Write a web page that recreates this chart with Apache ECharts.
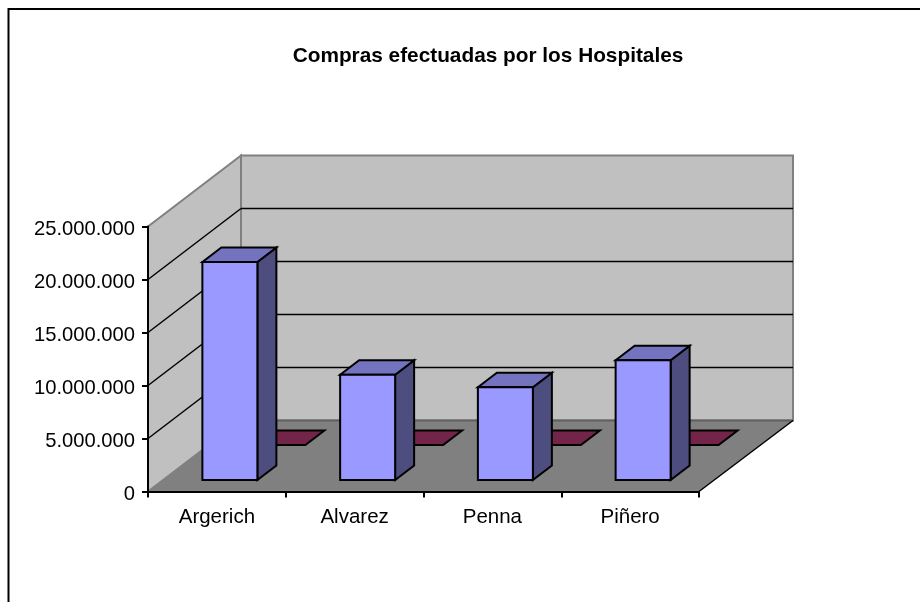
<!DOCTYPE html>
<html>
<head>
<meta charset="utf-8">
<style>html,body{margin:0;padding:0;background:#fff}#c{width:920px;height:602px}</style>
<script src="https://cdn.jsdelivr.net/npm/echarts@6/dist/echarts.min.js"></script>
</head>
<body>
<div id="c"></div>
<script>
var titleText = 'Compras efectuadas por los Hospitales';
var categories = ['Argerich', 'Alvarez', 'Penna', 'Piñero'];
var seriesOne = [20570000, 9930000, 8750000, 11300000];
var seriesTwo = [3300000, 3300000, 3300000, 3300000];
var gridTicks = [5000000, 10000000, 15000000, 20000000];

var WALL_DX = 93, WALL_DY = -71, WALL_RIGHT_EXTRA = 1;
var BAR_DX = 19, BAR_DY = -14.5;
var BASE_DY = -11.5, BAR_SHIFT = 13, BAR_W = 55, FLAT_RIGHT = 88.5;
var FONT = '"Liberation Sans", Arial, sans-serif';

function poly(points, fill, stroke, width) {
  return { type: 'polygon', shape: { points: points }, style: { fill: fill, stroke: stroke, lineWidth: width, lineJoin: 'miter' } };
}
function seg(x1, y1, x2, y2, stroke, width) {
  return { type: 'line', shape: { x1: x1, y1: y1, x2: x2, y2: y2 }, style: { stroke: stroke, lineWidth: width } };
}

function renderWalls(params, api) {
  var c = params.coordSys;
  var L = c.x, R = c.x + c.width, T = c.y, B = c.y + c.height;
  var dx = WALL_DX, dy = WALL_DY, Rb = R + dx + WALL_RIGHT_EXTRA;
  var kids = [
    poly([[L + dx, T + dy], [Rb, T + dy], [Rb, B + dy], [L + dx, B + dy]], '#c0c0c0', '#808080', 2),
    poly([[L, T], [L + dx, T + dy], [L + dx, B + dy], [L, B]], '#c0c0c0', '#808080', 2),
    poly([[L, B], [R, B], [Rb, B + dy], [L + dx, B + dy]], '#808080', null, 0),
    seg(L + dx, B + dy, Rb, B + dy, '#606060', 2),
    seg(R, B, Rb, B + dy, '#000', 1.5)
  ];
  gridTicks.forEach(function (v) {
    var y = api.coord([0, v])[1];
    kids.push(seg(L, y, L + dx, y + dy, '#000', 1.5));
    kids.push(seg(L + dx, y + dy, Rb, y + dy, '#000', 1.5));
  });
  return { type: 'group', children: kids };
}

function renderFlat(params, api) {
  var p = api.coord([api.value(0), api.value(1)]);
  var left = p[0] + BAR_SHIFT + BAR_W / 2;
  var right = p[0] + FLAT_RIGHT;
  var y = p[1] + BASE_DY;
  return poly([[left, y], [right, y], [right + BAR_DX, y + BAR_DY], [left + BAR_DX, y + BAR_DY]], '#732449', '#000', 2);
}

function renderBar(params, api) {
  var p = api.coord([api.value(0), api.value(1)]);
  var base = api.coord([api.value(0), 0]);
  var x0 = p[0] + BAR_SHIFT - BAR_W / 2, x1 = x0 + BAR_W;
  var top = p[1] + BASE_DY, bot = base[1] + BASE_DY;
  return { type: 'group', children: [
    poly([[x1, top], [x1 + BAR_DX, top + BAR_DY], [x1 + BAR_DX, bot + BAR_DY], [x1, bot]], '#4d4d80', '#000', 2),
    poly([[x0, top], [x0 + BAR_DX, top + BAR_DY], [x1 + BAR_DX, top + BAR_DY], [x1, top]], '#7373bf', '#000', 2),
    poly([[x0, top], [x1, top], [x1, bot], [x0, bot]], '#9999ff', '#000', 2)
  ] };
}

var chart = echarts.init(document.getElementById('c'), null, { renderer: 'canvas' });
chart.setOption({
  animation: false,
  backgroundColor: '#fff',
  title: {
    text: titleText, left: 483, top: 41, textAlign: 'center',
    textStyle: { fontFamily: FONT, fontSize: 20.8, fontWeight: 'bold', color: '#000' }
  },
  graphic: [
    { type: 'line', silent: true, shape: { x1: 8, y1: 9, x2: 920, y2: 9 }, style: { stroke: '#000', lineWidth: 2 } },
    { type: 'line', silent: true, shape: { x1: 8.5, y1: 8, x2: 8.5, y2: 602 }, style: { stroke: '#000', lineWidth: 2 } }
  ],
  grid: { left: 148, top: 226.5, width: 551, height: 265, containLabel: false },
  xAxis: {
    type: 'category', data: categories, z: 6,
    axisLine: { lineStyle: { color: '#000', width: 2 } },
    axisTick: { show: true, length: 6, alignWithLabel: false, lineStyle: { color: '#000', width: 2 } },
    axisLabel: { fontFamily: FONT, fontSize: 20.5, color: '#000', margin: 15 }
  },
  yAxis: {
    type: 'value', min: 0, max: 25000000, interval: 5000000, z: 6,
    axisLine: { show: true, lineStyle: { color: '#000', width: 2 } },
    axisTick: { show: true, length: 6, lineStyle: { color: '#000', width: 2 } },
    splitLine: { show: false },
    axisLabel: {
      fontFamily: FONT, fontSize: 20.2, color: '#000', margin: 13, verticalAlign: 'top', lineHeight: 6,
      formatter: function (v) { return String(v).replace(/\B(?=(\d{3})+$)/g, '.'); }
    }
  },
  series: [
    { type: 'custom', name: 'walls', z: 1, silent: true, clip: false, renderItem: renderWalls, data: [[0, 0]], encode: { x: 0, y: 1 } },
    { type: 'custom', name: 'Serie 2', z: 2, silent: true, clip: false, renderItem: renderFlat,
      data: seriesTwo.map(function (v, i) { return [i, v]; }), encode: { x: 0, y: 1 } },
    { type: 'custom', name: 'Serie 1', z: 3, silent: true, clip: false, renderItem: renderBar,
      data: seriesOne.map(function (v, i) { return [i, v]; }), encode: { x: 0, y: 1 } }
  ]
});
</script>
</body>
</html>
